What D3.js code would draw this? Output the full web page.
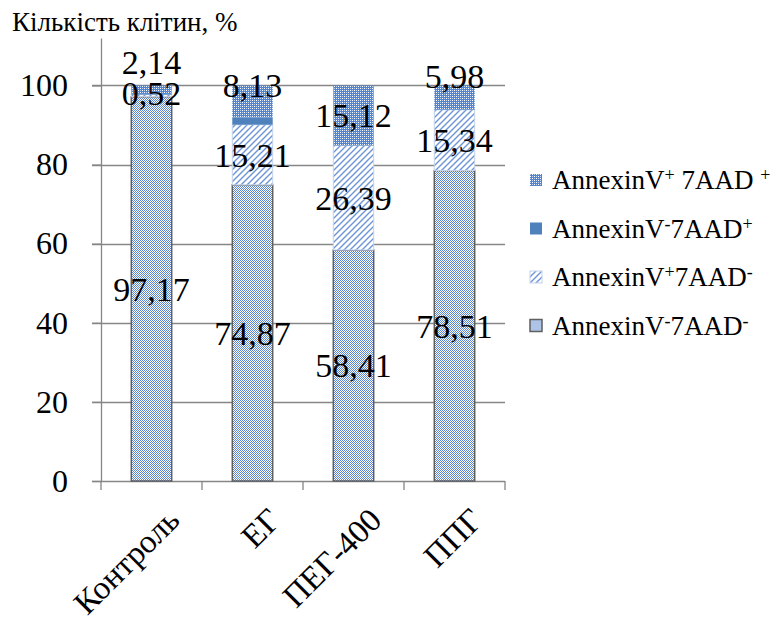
<!DOCTYPE html>
<html>
<head>
<meta charset="utf-8">
<script src="https://cdn.jsdelivr.net/npm/d3@7"></script>
</head>
<body style="margin:0;background:#ffffff">
<svg id="chart" width="779" height="620" style="display:block"></svg>
<script>
// Cell populations after treatment, % of all cells
const categories = ["Контроль", "ЕГ", "ПЕГ-400", "ППГ"];
const liveCells      = [97.17, 74.87, 58.41, 78.51]; // AnnexinV- 7AAD-
const earlyApoptotic = [0.52, 15.21, 26.39, 15.34];  // AnnexinV+ 7AAD-
const necroticCells  = [0.17, 1.79, 0.08, 0.17];     // AnnexinV- 7AAD+
const lateApoptotic  = [2.14, 8.13, 15.12, 5.98];    // AnnexinV+ 7AAD+
const yTicks = [0, 20, 40, 60, 80, 100];
const axisTitle = "Кількість клітин, %";

const FONT = "'Liberation Serif', 'Times New Roman'";
const plot = { left: 101, right: 505, top: 38, bottom: 481 };

const svg = d3.select("#chart");
const defs = svg.append("defs");

// serif text helper
function serifText(sel, size) {
  return sel.style("font-family", FONT).style("font-size", size + "px").attr("fill", "#000");
}

// ---- fill patterns -------------------------------------------------------
const blue = "#4f81bd";

// fine dotted fill
const pDots = defs.append("pattern").attr("id", "p-dots")
  .attr("patternUnits", "userSpaceOnUse").attr("width", 2).attr("height", 2);
pDots.append("rect").attr("width", 2).attr("height", 2).attr("fill", "#ffffff");
pDots.append("rect").attr("x", 0).attr("y", 0).attr("width", 1).attr("height", 1).attr("fill", "#5b86cf");
pDots.append("rect").attr("x", 1).attr("y", 1).attr("width", 1).attr("height", 1).attr("fill", "#5b86cf");

// upward diagonal hatch
const hp = 6;
const pHatch = defs.append("pattern").attr("id", "p-hatch")
  .attr("patternUnits", "userSpaceOnUse").attr("width", hp).attr("height", hp);
pHatch.append("rect").attr("width", hp).attr("height", hp).attr("fill", "#ffffff");
pHatch.append("path")
  .attr("d", `M0,${hp} L${hp},0 M${-hp / 2},${hp / 2} L${hp / 2},${-hp / 2} M${hp / 2},${hp * 1.5} L${hp * 1.5},${hp / 2}`)
  .attr("stroke", "#6d95d6").attr("stroke-width", 1.4);

// blue lattice with white dots
const pLattice = defs.append("pattern").attr("id", "p-lattice")
  .attr("patternUnits", "userSpaceOnUse").attr("width", 4).attr("height", 4);
pLattice.append("rect").attr("width", 4).attr("height", 4).attr("fill", "#5484c9");
[[0, 0], [2, 2]].forEach(([px, py]) =>
  pLattice.append("rect").attr("x", px).attr("y", py).attr("width", 1).attr("height", 1).attr("fill", "#ffffff"));
[[2, 0], [0, 2]].forEach(([px, py]) =>
  pLattice.append("rect").attr("x", px).attr("y", py).attr("width", 1).attr("height", 1).attr("fill", "#c3d4ef"));

// ---- series --------------------------------------------------------------
const series = [
  { key: "live",  values: liveCells,      fill: "url(#p-dots)",    stroke: "#5f5f5f", sw: 1.5, labels: true,
    legend: [["AnnexinV", ""], ["-", "sup"], ["7AAD", ""], ["-", "sup"]] },
  { key: "early", values: earlyApoptotic, fill: "url(#p-hatch)",   stroke: "#c4d4ec", sw: 1,   labels: true,
    legend: [["AnnexinV", ""], ["+", "sup"], ["7AAD", ""], ["-", "sup"]] },
  { key: "necro", values: necroticCells,  fill: blue,              stroke: "none",    sw: 0,   labels: false,
    legend: [["AnnexinV", ""], ["-", "sup"], ["7AAD", ""], ["+", "sup"]] },
  { key: "late",  values: lateApoptotic,  fill: "url(#p-lattice)", stroke: "none",    sw: 0,   labels: true,
    legend: [["AnnexinV", ""], ["+", "sup"], ["\u00a07AAD\u00a0", ""], ["+", "sup"]] }
];

// labels of thin top segments are lifted clear of their neighbours (px)
const labelLift = {
  live:  [0, 0, 0, 0],
  early: [3, 0, 0, 0],
  late:  [28, 16, 0, 21]
};

const rows = categories.map((c, i) => {
  const r = { cat: c };
  series.forEach(s => { r[s.key] = s.values[i]; });
  return r;
});
const stacked = d3.stack().keys(series.map(s => s.key))(rows);

// ---- scales --------------------------------------------------------------
const x = d3.scaleBand().domain(categories)
  .range([plot.left, plot.right]).paddingInner(0.6).paddingOuter(0.3);
const y = d3.scaleLinear().domain([0, 112]).range([plot.bottom, plot.top]);

const gridColor = "#868686";

// gridlines (extend left as the axis tick marks)
svg.append("g").selectAll("line").data(yTicks).join("line")
  .attr("x1", plot.left - 9).attr("x2", plot.right)
  .attr("y1", d => Math.round(y(d)) + 0.5).attr("y2", d => Math.round(y(d)) + 0.5)
  .attr("stroke", gridColor).attr("stroke-width", 1.3);

// y axis
const yAxis = svg.append("g").attr("transform", `translate(${plot.left},0)`)
  .call(d3.axisLeft(y).tickValues(yTicks).tickSize(9).tickSizeOuter(0).tickPadding(24));
yAxis.attr("font-family", null).attr("font-size", null);
yAxis.select(".domain").attr("stroke", gridColor).attr("stroke-width", 1.3);
yAxis.selectAll(".tick line").attr("stroke", gridColor).attr("stroke-width", 1.3);
serifText(yAxis.selectAll(".tick text"), 32);

// x axis tick marks at category boundaries
const bounds = d3.range(categories.length + 1).map(i => x.range()[0] + i * x.step());
svg.append("g").selectAll("line").data(bounds).join("line")
  .attr("x1", d => d).attr("x2", d => d)
  .attr("y1", y(0)).attr("y2", y(0) + 9)
  .attr("stroke", gridColor).attr("stroke-width", 1.3);

// ---- bars ----------------------------------------------------------------
stacked.forEach((layer, si) => {
  const s = series[si];
  svg.append("g").selectAll("rect").data(layer).join("rect")
    .attr("x", d => x(d.data.cat))
    .attr("y", d => y(d[1]))
    .attr("width", x.bandwidth())
    .attr("height", d => Math.max(0, y(d[0]) - y(d[1])))
    .attr("fill", s.fill)
    .attr("stroke", s.stroke)
    .attr("stroke-width", s.sw);
});

// ---- value labels --------------------------------------------------------
const fmt = v => d3.format(".2f")(v).replace(".", ",");
stacked.forEach((layer, si) => {
  const s = series[si];
  if (!s.labels) return;
  serifText(svg.append("g").selectAll("text").data(layer).join("text"), 34)
    .attr("x", d => x(d.data.cat) + x.bandwidth() / 2)
    .attr("y", (d, i) => y((d[0] + d[1]) / 2) - labelLift[s.key][i])
    .attr("dy", "0.35em")
    .attr("text-anchor", "middle")
    .text(d => fmt(d.data[s.key]));
});

// ---- category labels -----------------------------------------------------
serifText(svg.append("g").selectAll("text").data(categories).join("text"), 33)
  .attr("transform", d => `translate(${x(d) + x.bandwidth() / 2 + 30},522) rotate(-45)`)
  .attr("text-anchor", "end")
  .text(d => d);

// ---- axis title ----------------------------------------------------------
serifText(svg.append("text"), 27)
  .attr("x", 12).attr("y", 31)
  .text(axisTitle);

// ---- legend --------------------------------------------------------------
const legendOrder = series.slice().reverse();
const legend = svg.append("g").attr("transform", "translate(530,0)");
const rowY = [180, 228.5, 277, 325.5];
legendOrder.forEach((s, i) => {
  const g = legend.append("g").attr("transform", `translate(0,${rowY[i]})`);
  g.append("rect").attr("x", 0).attr("y", -6).attr("width", 12).attr("height", 12)
    .attr("fill", s.fill).attr("stroke", s.stroke).attr("stroke-width", s.sw);
  const t = serifText(g.append("text"), 27).attr("x", 22).attr("dy", "0.35em");
  s.legend.forEach(([txt, kind]) => {
    const ts = t.append("tspan").text(txt);
    if (kind === "sup") ts.style("font-size", "18px").attr("baseline-shift", "45%");
  });
});
</script>
</body>
</html>
